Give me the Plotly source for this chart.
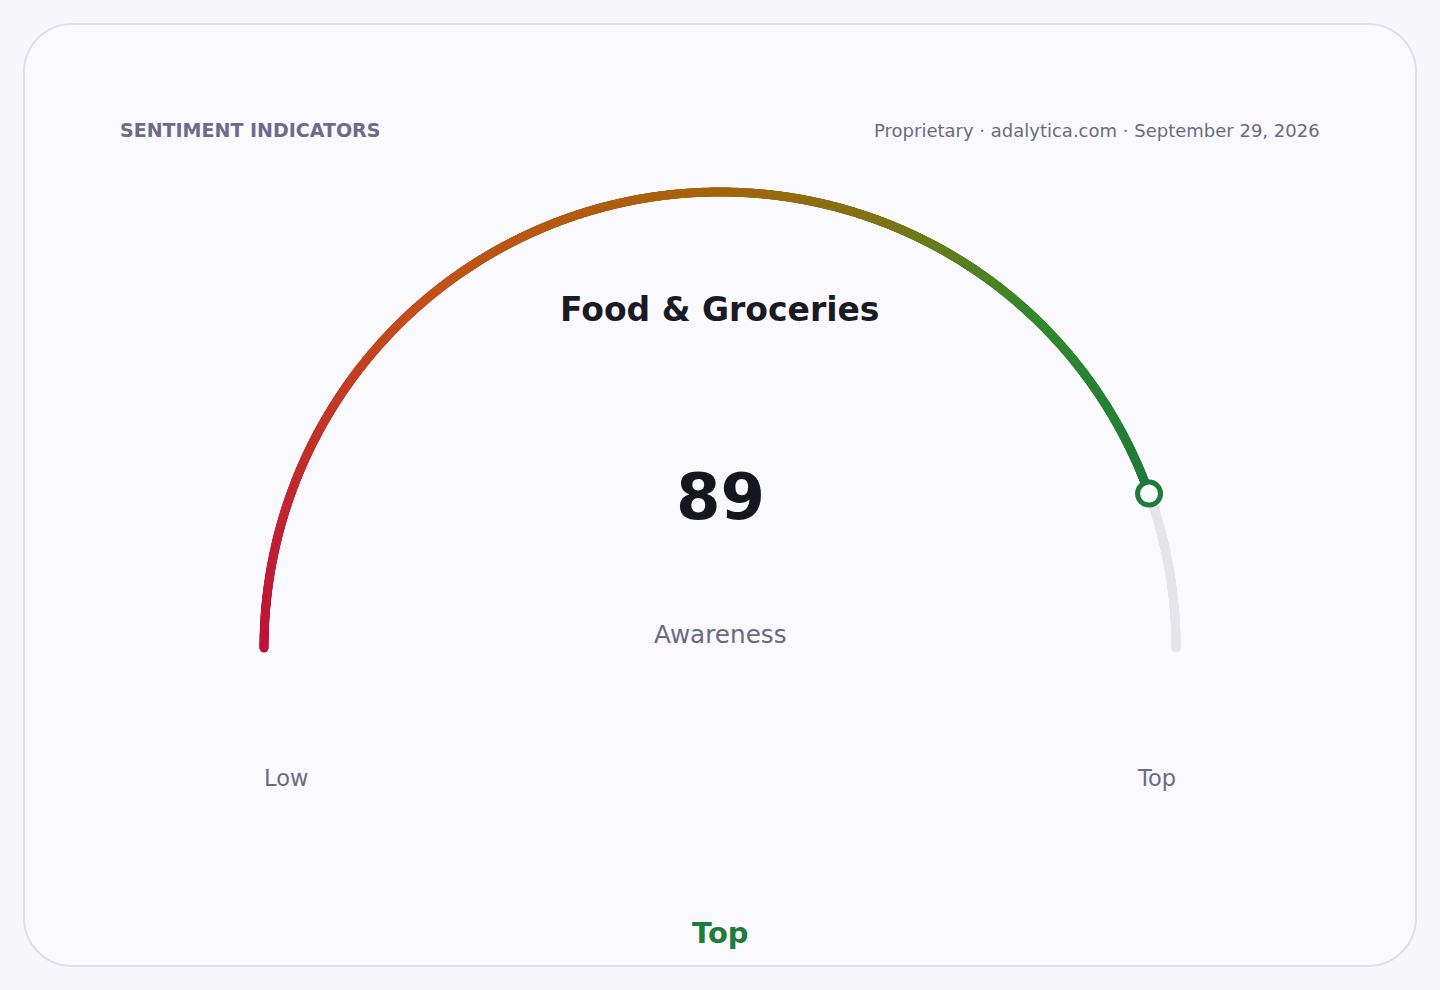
import numpy as np
import plotly.graph_objects as go

# ---------------- data ----------------
HEADER = "SENTIMENT INDICATORS"
SOURCE = "Proprietary · adalytica.com · September 29, 2026"
TITLE = "Food & Groceries"
METRIC = "Awareness"
VALUE = 89
SCALE_MIN = 0
SCALE_MAX = 100
LOW_LABEL = "Low"
HIGH_LABEL = "Top"
RATING = "Top"

# gradient stops along the scale (value -> colour)
STOP_VALUES = [0, 12, 27, 50, 62, 75, 89]
STOP_COLORS = ["#be123c", "#c22a2e", "#c2501a", "#a5650a", "#7d7414", "#2f8a2e", "#1f7a3a"]

# ---------------- style / geometry ----------------
W, H = 1440, 990
CX, CY, R = 720, 648, 456
ARC_W = 9
FONT = "DejaVu Sans"
PAGE_BG = "#f7f7fb"
CARD_BG = "#f9f9fe"
CARD_BORDER = "#dfdeea"
TRACK = "#e4e4ea"
GREEN = "#1e7b3a"
MUTED = "#6b6b80"
DARK = "#1a1a24"


def pos(v):
    t = np.pi * (1 - (np.asarray(v, float) - SCALE_MIN) / (SCALE_MAX - SCALE_MIN))
    return CX + R * np.cos(t), CY - R * np.sin(t)


fig = go.Figure()

# card (rounded rectangle)
x0, y0, x1, y1, rr = 24, 24, 1416, 966, 48
k = 0.4477 * rr
card = (f"M {x0+rr},{y0} L {x1-rr},{y0} C {x1-k},{y0} {x1},{y0+k} {x1},{y0+rr} "
        f"L {x1},{y1-rr} C {x1},{y1-k} {x1-k},{y1} {x1-rr},{y1} "
        f"L {x0+rr},{y1} C {x0+k},{y1} {x0},{y1-k} {x0},{y1-rr} "
        f"L {x0},{y0+rr} C {x0},{y0+k} {x0+k},{y0} {x0+rr},{y0} Z")
fig.add_shape(type="path", path=card, xref="x", yref="y",
              fillcolor=CARD_BG, line=dict(color=CARD_BORDER, width=2), layer="below")

# grey remainder track
tv = np.linspace(VALUE, SCALE_MAX, 300)
tx, ty = pos(tv)
fig.add_trace(go.Scatter(x=tx, y=ty, mode="markers", hoverinfo="skip",
                         marker=dict(size=ARC_W, color=TRACK, line=dict(width=0))))

# gradient filled arc
fv = np.linspace(SCALE_MIN, VALUE, 1400)
fx, fy = pos(fv)
cs = [[(v - SCALE_MIN) / (SCALE_MAX - SCALE_MIN), c] for v, c in zip(STOP_VALUES, STOP_COLORS)]
cs.append([1.0, STOP_COLORS[-1]])
fig.add_trace(go.Scatter(x=fx, y=fy, mode="markers", hoverinfo="skip",
                         marker=dict(size=ARC_W, color=fv, colorscale=cs,
                                     cmin=SCALE_MIN, cmax=SCALE_MAX, line=dict(width=0),
                                     showscale=False)))

# value marker
mx, my = pos([VALUE])
fig.add_trace(go.Scatter(x=mx, y=my, mode="markers", hoverinfo="skip",
                         marker=dict(size=23, color=CARD_BG, line=dict(color=GREEN, width=5))))

# texts
def txt(x, y, s, size, color, bold=False, anchor="center"):
    fig.add_annotation(x=x, y=y, xref="x", yref="y", text=f"<b>{s}</b>" if bold else s,
                       showarrow=False, xanchor=anchor, yanchor="middle",
                       font=dict(family=FONT, size=size, color=color))

txt(118, 130, HEADER, 19, "#6e6a8a", bold=True, anchor="left")
txt(1322, 130, SOURCE, 18, MUTED, anchor="right")
txt(CX, 309, TITLE, 33, DARK, bold=True)
txt(CX, 497, str(VALUE), 64, "#16161f", bold=True)
txt(CX, 634, METRIC, 24.7, MUTED)
lx, _ = pos([SCALE_MIN])
hx, _ = pos([SCALE_MAX])
txt(lx[0] - 2, 778, LOW_LABEL, 22.5, MUTED, anchor="left")
txt(hx[0] + 2, 778, HIGH_LABEL, 22.5, MUTED, anchor="right")
txt(CX, 933, RATING, 29, GREEN, bold=True)

fig.update_layout(
    width=W, height=H, margin=dict(l=0, r=0, t=0, b=0),
    paper_bgcolor=PAGE_BG, plot_bgcolor=PAGE_BG, showlegend=False,
    xaxis=dict(range=[0, W], visible=False, fixedrange=True),
    yaxis=dict(range=[H, 0], visible=False, fixedrange=True),
)

fig.write_html("out.html", config={"displayModeBar": False},
               post_script="document.body.style.margin='0';document.body.style.overflow='hidden';")
